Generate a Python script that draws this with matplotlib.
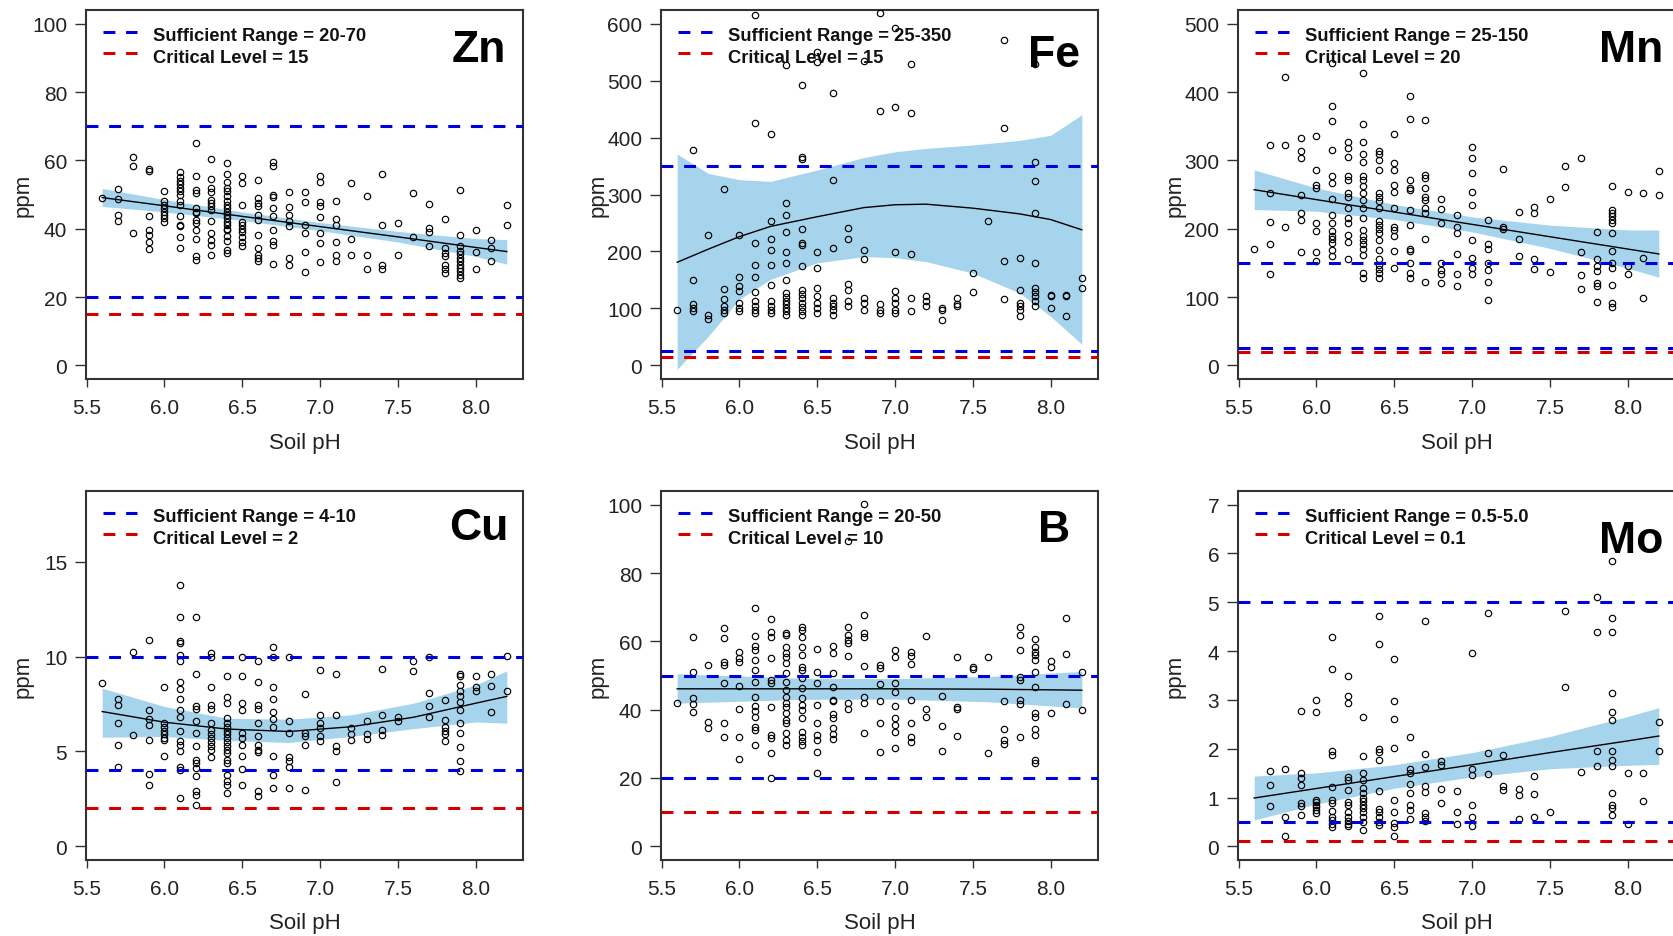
import matplotlib
matplotlib.use('Agg')
import matplotlib.pyplot as plt

# Soil pH vs micronutrient (ppm), one dict per element: pH -> readings
zn_pts = {
    5.6: [49.1], 5.7: [51.7, 48.6, 44.1, 42.1], 5.8: [61.1, 58.4, 38.7],
    5.9: [57.5, 57.0, 43.6, 39.7, 38.2, 36.1, 34.0],
    6.0: [50.9, 48.0, 47.0, 46.0, 45.0, 44.0, 43.0, 42.0],
    6.1: [56.5, 55.0, 54.0, 53.0, 52.0, 51.0, 50.0, 48.0, 47.0, 43.6, 41.1, 40.7, 37.5, 34.3],
    6.2: [65.2, 55.5, 51.4, 50.5, 46.0, 45.0, 44.5, 42.6, 41.8, 39.7, 37.0, 32.1, 30.9],
    6.3: [60.4, 54.6, 51.8, 50.8, 48.4, 47.4, 46.5, 45.5, 42.1, 38.7, 36.8, 35.3, 32.2],
    6.4: [59.1, 55.9, 53.8, 51.8, 50.9, 49.5, 48.0, 47.0, 46.0, 45.0, 44.0, 43.0, 42.0,
          41.0, 40.0, 39.7, 37.9, 36.3, 33.9, 32.9],
    6.5: [55.5, 53.3, 47.0, 42.0, 41.0, 40.0, 39.0, 37.5, 36.0, 35.0],
    6.6: [54.1, 48.9, 47.5, 46.5, 44.0, 42.6, 38.2, 34.3, 32.4, 31.5, 30.4],
    6.7: [59.4, 58.4, 49.9, 49.4, 46.0, 43.6, 39.7, 36.3, 35.1, 29.7],
    6.8: [50.8, 46.2, 44.1, 42.1, 40.7, 31.4, 29.5],
    6.9: [50.8, 47.8, 41.1, 38.7, 33.2, 27.2],
    7.0: [55.3, 53.8, 47.8, 46.5, 43.3, 38.7, 35.8, 30.3],
    7.1: [48.2, 42.9, 41.0, 36.1, 32.2, 30.6], 7.2: [53.3, 37.0, 32.4],
    7.3: [49.5, 32.4, 28.2], 7.4: [55.9, 41.1, 29.5, 28.2], 7.5: [41.6, 32.4],
    7.6: [50.4, 37.5], 7.7: [47.1, 40.2, 39.0, 34.8],
    7.8: [42.8, 34.3, 33.0, 31.9, 29.5, 28.2, 27.0],
    7.9: [51.3, 38.2, 34.8, 33.5, 32.5, 31.5, 30.5, 29.5, 28.5, 27.5, 26.5, 25.6],
    8.0: [39.5, 33.2, 28.2], 8.1: [36.8, 34.3, 30.6], 8.2: [47.0, 41.1],
}
fe_pts = {
    5.6: [98], 5.7: [378, 149, 107, 100, 95], 5.8: [229, 89, 82],
    5.9: [310, 134, 116, 105, 98, 92], 6.0: [229, 156, 139, 130, 110, 101, 95],
    6.1: [615, 426, 215, 177, 156, 128, 113, 105, 98, 92],
    6.2: [406, 254, 222, 202, 177, 141, 113, 105, 98, 92],
    6.3: [527, 285, 264, 234, 199, 180, 149, 127, 120, 113, 107, 101, 95, 89],
    6.4: [492, 365, 362, 239, 215, 212, 174, 133, 125, 118, 110, 102, 95, 89],
    6.5: [550, 533, 199, 171, 136, 121, 110, 101, 92],
    6.6: [479, 325, 206, 118, 110, 104, 97, 89],
    6.7: [241, 222, 143, 133, 113, 104], 6.8: [535, 202, 186, 118, 110, 98],
    6.9: [619, 446, 107, 98, 92], 7.0: [592, 453, 199, 131, 118, 110, 98, 92],
    7.1: [529, 444, 196, 118, 95], 7.2: [121, 113, 104], 7.3: [101, 98, 80],
    7.4: [118, 107, 104], 7.5: [163, 128], 7.6: [254], 7.7: [572, 416, 184, 116],
    7.8: [189, 133, 110, 104, 98, 86], 7.9: [530, 357, 323, 267, 179, 136, 128, 121, 113, 104],
    8.0: [124, 121, 101], 8.1: [124, 121, 86], 8.2: [153, 136],
}
mn_pts = {
    5.6: [170], 5.7: [323, 252, 210, 177, 134], 5.8: [422, 323, 203],
    5.9: [332, 314, 303, 250, 223, 212, 166], 6.0: [336, 286, 264, 259, 208, 197, 166, 153],
    6.1: [442, 380, 357, 315, 277, 267, 243, 220, 209, 197, 190, 185, 179, 169, 160],
    6.2: [327, 318, 305, 277, 271, 252, 247, 230, 215, 208, 191, 181, 156],
    6.3: [428, 353, 327, 310, 298, 277, 271, 262, 252, 242, 230, 215, 198, 190, 184,
          177, 170, 162, 135, 128],
    6.4: [313, 310, 301, 286, 252, 247, 240, 230, 211, 206, 200, 194, 184, 169, 155,
          147, 141, 135, 128],
    6.5: [338, 296, 286, 264, 254, 230, 203, 198, 189, 168, 143],
    6.6: [394, 360, 271, 259, 257, 227, 206, 170, 168, 150, 135, 128],
    6.7: [359, 279, 274, 259, 247, 242, 230, 223, 185, 122],
    6.8: [243, 229, 208, 150, 140, 133, 120], 6.9: [220, 203, 194, 163, 134, 116],
    7.0: [319, 304, 281, 254, 235, 183, 157, 143, 134],
    7.1: [212, 177, 170, 150, 140, 122, 96], 7.2: [287, 202, 199], 7.3: [225, 185, 160],
    7.4: [232, 223, 155, 141], 7.5: [243, 136], 7.6: [292, 261], 7.7: [304, 166, 132, 111],
    7.8: [195, 156, 145, 138, 121, 116, 92],
    7.9: [263, 228, 223, 218, 213, 208, 194, 168, 150, 143, 117, 91, 86],
    8.0: [254, 145, 134], 8.1: [252, 157, 99], 8.2: [284, 250],
}
cu_pts = {
    5.6: [8.63], 5.7: [7.75, 7.42, 6.49, 5.35, 4.16], 5.8: [10.26, 5.88],
    5.9: [10.88, 7.19, 6.70, 6.40, 5.58, 3.82, 3.25],
    6.0: [8.39, 6.49, 6.30, 6.10, 5.90, 5.70, 5.60, 4.77],
    6.1: [13.77, 12.1, 10.8, 10.7, 10.1, 9.74, 8.65, 8.3, 7.75, 7.19, 6.84, 6.1, 5.53,
          5.35, 5.0, 4.16, 4.04, 2.54],
    6.2: [12.1, 9.07, 7.4, 7.23, 6.58, 5.96, 5.3, 4.56, 4.39, 4.12, 3.72, 2.89, 2.72, 2.19],
    6.3: [10.2, 9.96, 8.39, 7.42, 7.25, 6.49, 6.14, 5.9, 5.7, 5.5, 5.3, 5.09, 4.7],
    6.4: [9.0, 7.89, 7.54, 6.75, 6.49, 6.3, 6.1, 5.9, 5.7, 5.5, 5.3, 5.1, 4.9, 4.56,
          4.39, 3.77, 3.42, 3.25, 2.8],
    6.5: [9.96, 9.0, 7.54, 7.19, 5.96, 5.7, 5.35, 4.74, 4.09, 3.25],
    6.6: [9.74, 8.68, 7.46, 7.23, 6.49, 5.82, 5.35, 5.1, 4.95, 2.89, 2.67],
    6.7: [10.5, 10.0, 8.39, 7.77, 7.1, 6.7, 6.28, 4.77, 3.77, 3.07],
    6.8: [10.0, 6.58, 5.96, 4.7, 4.47, 4.16, 3.07], 6.9: [8.02, 5.96, 5.79, 5.35, 2.98],
    7.0: [9.3, 6.93, 6.49, 6.23, 5.82, 5.53], 7.1: [9.07, 6.93, 5.3, 5.04, 3.39],
    7.2: [6.23, 5.9, 5.6], 7.3: [6.58, 5.93, 5.65], 7.4: [9.35, 6.93, 6.14, 5.88],
    7.5: [6.84, 6.58], 7.6: [9.77, 9.25], 7.7: [10.0, 8.1, 7.4, 6.8],
    7.8: [7.72, 6.63, 6.3, 6.1, 5.9, 5.53],
    7.9: [9.09, 8.95, 8.5, 8.2, 7.9, 7.6, 7.19, 6.49, 5.96, 5.21, 4.47, 3.98],
    8.0: [8.95, 8.42, 8.16], 8.1: [9.07, 8.46, 7.1], 8.2: [10.05, 8.16],
}
b_pts = {
    5.6: [41.9], 5.7: [61.3, 51.1, 43.3, 41.6, 39.4], 5.8: [53.1, 36.5, 34.6],
    5.9: [63.8, 60.9, 54.0, 53.1, 47.9, 36.0, 32.1],
    6.0: [57.0, 55.0, 54.0, 46.9, 40.1, 32.1, 25.5],
    6.1: [69.8, 61.6, 58.7, 57.4, 54.5, 51.6, 48.2, 43.8, 41.0, 39.5, 38.0, 35.0, 34.0, 29.7],
    6.2: [66.4, 62.8, 61.3, 55.0, 48.7, 47.7, 40.7, 32.6, 31.6, 27.3, 20.0],
    6.3: [62.3, 61.8, 58.4, 56.5, 55.5, 53.6, 50.6, 48.2, 45.8, 43.8, 41.9, 40.9, 39.0,
          37.0, 36.0, 33.1, 31.1, 29.7],
    6.4: [64.3, 63.3, 61.3, 58.4, 56.0, 52.6, 51.6, 49.2, 46.3, 43.3, 41.4, 40.0, 37.5,
          33.6, 32.1, 30.7, 29.7],
    6.5: [57.9, 51.1, 47.9, 41.4, 36.0, 32.6, 31.2, 27.6, 21.4],
    6.6: [58.6, 56.7, 50.8, 46.5, 42.8, 42.4, 38.7, 37.5, 34.6, 33.0, 31.4],
    6.7: [89.4, 64.3, 61.8, 60.3, 59.4, 55.8, 41.9, 40.1],
    6.8: [100.3, 67.7, 62.3, 61.3, 52.9, 43.8, 41.9, 33.1],
    6.9: [53.1, 52.3, 47.4, 42.4, 36.0, 27.6],
    7.0: [57.4, 55.3, 47.7, 45.3, 41.1, 37.5, 35.5, 33.4, 28.9],
    7.1: [57.0, 55.7, 53.3, 42.8, 36.0, 32.1, 30.4], 7.2: [61.6, 40.1, 38.0],
    7.3: [44.1, 35.2, 28.0], 7.4: [55.5, 40.9, 40.1, 32.3], 7.5: [52.6, 51.8],
    7.6: [55.5, 27.3], 7.7: [42.4, 34.4, 31.0, 30.0],
    7.8: [64.3, 61.8, 57.4, 49.5, 48.7, 42.8, 41.7, 31.9],
    7.9: [60.6, 58.4, 57.0, 56.0, 54.5, 50.9, 46.5, 39.1, 38.0, 34.3, 32.6, 25.3, 24.3],
    8.0: [54.3, 52.6, 38.9], 8.1: [66.7, 56.2, 41.6], 8.2: [51.1, 39.9],
}
mo_pts = {
    5.7: [1.55, 1.26, 0.82], 5.8: [1.58, 0.61, 0.22],
    5.9: [2.78, 1.51, 1.40, 1.26, 0.89, 0.82, 0.65],
    6.0: [3.0, 2.76, 0.95, 0.9, 0.85, 0.8, 0.74, 0.68],
    6.1: [4.29, 3.64, 1.96, 1.87, 1.21, 0.95, 0.89, 0.72, 0.6, 0.53, 0.45, 0.4],
    6.2: [3.5, 3.07, 2.94, 1.43, 1.35, 1.16, 0.9, 0.85, 0.7, 0.6, 0.52, 0.45, 0.41],
    6.3: [2.64, 1.85, 1.51, 1.36, 1.19, 1.09, 1.0, 0.93, 0.85, 0.78, 0.7, 0.6, 0.5, 0.34],
    6.4: [4.72, 4.14, 1.99, 1.94, 1.77, 1.14, 0.76, 0.7, 0.6, 0.5, 0.44],
    6.5: [3.84, 2.97, 2.6, 2.02, 0.95, 0.7, 0.48, 0.4, 0.22],
    6.6: [2.23, 1.58, 1.5, 1.28, 1.1, 0.85, 0.75, 0.55],
    6.7: [4.61, 1.9, 1.62, 1.23, 1.12, 0.68, 0.6, 0.51],
    6.8: [1.74, 1.67, 1.17, 0.89], 6.9: [1.14, 0.7, 0.46],
    7.0: [3.97, 1.59, 1.47, 0.85, 0.61, 0.41], 7.1: [4.79, 1.91, 1.49],
    7.2: [1.87, 1.23, 1.16], 7.3: [1.17, 1.06, 0.56], 7.4: [1.45, 1.08, 0.61],
    7.5: [0.7], 7.6: [4.82, 3.26], 7.7: [1.52], 7.8: [5.11, 4.4, 1.96, 1.64],
    7.9: [5.85, 4.67, 4.4, 3.14, 2.76, 2.58, 1.96, 1.77, 1.65, 1.1, 0.85, 0.78, 0.65],
    8.0: [1.5, 0.46], 8.1: [1.51, 0.93], 8.2: [2.54, 1.96],
}

# fitted curve and confidence band
zn_fit_ph = [5.6, 6.0, 6.5, 7.0, 7.5, 8.0, 8.2]
zn_fit = [49.1, 46.7, 43.6, 40.6, 37.6, 34.5, 33.3]
zn_lo = [46.5, 44.9, 42.4, 39.4, 36.1, 31.9, 29.6]
zn_hi = [51.8, 48.5, 44.9, 41.8, 39.2, 37.1, 36.8]

fe_fit_ph = [5.6, 5.8, 6.0, 6.2, 6.5, 6.8, 7.0, 7.2, 7.5, 7.8, 8.0, 8.2]
fe_fit = [181, 204, 226, 244, 261, 277, 282, 283, 276, 266, 256, 238]
fe_lo = [-7, 51, 116, 151, 180, 191, 189, 182, 162, 127, 86, 37]
fe_hi = [371, 337, 326, 323, 343, 365, 375, 381, 387, 395, 404, 440]

mn_fit_ph = [5.6, 6.0, 6.5, 7.0, 7.5, 8.0, 8.2]
mn_fit = [257, 242.5, 224.4, 206.3, 188.2, 170.2, 163]
mn_lo = [228, 225.5, 213.4, 195.3, 171.2, 142.2, 129]
mn_hi = [286, 259.5, 235.4, 217.3, 205.2, 198.2, 198]

cu_fit_ph = [5.6, 6.0, 6.4, 6.8, 7.2, 7.6, 8.0, 8.2]
cu_fit = [7.1, 6.54, 6.18, 6.05, 6.3, 6.8, 7.54, 7.9]
cu_lo = [5.75, 5.79, 5.58, 5.47, 5.79, 6.2, 6.55, 6.49]
cu_hi = [8.33, 7.37, 6.75, 6.7, 6.93, 7.54, 8.5, 9.25]

b_fit_ph = [5.6, 6.4, 7.0, 7.6, 8.2]
b_fit = [46.1, 46.1, 46.1, 46.0, 45.7]
b_lo = [41.9, 43.0, 43.1, 42.3, 40.5]
b_hi = [50.5, 49.2, 49.1, 49.7, 51.2]

mo_fit_ph = [5.6, 6.0, 6.5, 7.0, 7.5, 8.0, 8.2]
mo_fit = [0.99, 1.185, 1.43, 1.67, 1.92, 2.16, 2.26]
mo_lo = [0.54, 0.865, 1.19, 1.42, 1.59, 1.66, 1.68]
mo_hi = [1.44, 1.505, 1.67, 1.92, 2.25, 2.66, 2.84]

x_ticks = [5.5, 6.0, 6.5, 7.0, 7.5, 8.0]

panels = [
    # name, points, fit, ylim, yticks, sufficient (lo, hi), critical, legend text, name baseline
    ('Zn', zn_pts, (zn_fit_ph, zn_fit, zn_lo, zn_hi), (0, 100), [0, 20, 40, 60, 80, 100],
     (20, 70), 15, 'Sufficient Range = 20-70', 'Critical Level = 15', 89.1),
    ('Fe', fe_pts, (fe_fit_ph, fe_fit, fe_lo, fe_hi), (0, 600), [0, 100, 200, 300, 400, 500, 600],
     (25, 350), 15, 'Sufficient Range = 25-350', 'Critical Level = 15', 525),
    ('Mn', mn_pts, (mn_fit_ph, mn_fit, mn_lo, mn_hi), (0, 500), [0, 100, 200, 300, 400, 500],
     (25, 150), 20, 'Sufficient Range = 25-150', 'Critical Level = 20', 445),
    ('Cu', cu_pts, (cu_fit_ph, cu_fit, cu_lo, cu_hi), (0, 18), [0, 5, 10, 15],
     (4, 10), 2, 'Sufficient Range = 4-10', 'Critical Level = 2', 16.2),
    ('B', b_pts, (b_fit_ph, b_fit, b_lo, b_hi), (0, 100), [0, 20, 40, 60, 80, 100],
     (20, 50), 10, 'Sufficient Range = 20-50', 'Critical Level = 10', 89.4),
    ('Mo', mo_pts, (mo_fit_ph, mo_fit, mo_lo, mo_hi), (0, 7), [0, 1, 2, 3, 4, 5, 6, 7],
     (0.5, 5.0), 0.1, 'Sufficient Range = 0.5-5.0', 'Critical Level = 0.1', 6.03),
]

W, H = 1673, 937
fig = plt.figure(figsize=(W / 100, H / 100), dpi=100)

col_left = [86, 661, 1238]
row_top = [11, 492]
ax_w, ax_h = 437, 369

narrow = ['Liberation Sans Narrow', 'Liberation Sans', 'DejaVu Sans']
regular = ['Liberation Sans', 'DejaVu Sans']

BLUE = '#0000DD'
RED = '#D40000'
BAND = '#A6D4EC'
dash = (3.9, 3.5)

for i, (name, pts, fit, ylim, yticks, suff, crit, lab1, lab2, name_y) in enumerate(panels):
    r, c = divmod(i, 3)
    ax = fig.add_axes([col_left[c] / W, 1 - (row_top[r] + ax_h) / H, ax_w / W, ax_h / H])

    xs, ys = [], []
    for ph, vals in pts.items():
        xs += [ph] * len(vals)
        ys += vals

    fph, fval, flo, fhi = fit
    ax.fill_between(fph, flo, fhi, color=BAND, lw=0, zorder=1)
    ax.plot(xs, ys, 'o', mfc='none', mec='black', ms=4.6, mew=0.85, zorder=3)
    ax.plot(fph, fval, color='black', lw=1.0, zorder=4)

    for yv in suff:
        ax.axhline(yv, color=BLUE, lw=2.2, dashes=dash, zorder=5)
    ax.axhline(crit, color=RED, lw=2.2, dashes=dash, zorder=5)

    # legend drawn by hand to sit exactly as in the R figure
    for k, (col, txt) in enumerate([(BLUE, lab1), (RED, lab2)]):
        ly = 1 - (21.5 + 21.3 * k) / ax_h
        ax.plot([17 / ax_w, 51 / ax_w], [ly, ly], transform=ax.transAxes, color=col,
                lw=2.2, dashes=dash, clip_on=False, zorder=6)
        ax.text(67 / ax_w, 1 - (29.7 + 22 * k) / ax_h, txt, transform=ax.transAxes,
                ha='left', va='baseline', fontsize=13.2, fontweight='bold',
                family=regular, color='#111111', zorder=6)

    ax.text(8.023, name_y, name, ha='center', va='baseline', fontsize=32,
            fontweight='bold', family=regular, color='black', zorder=7)

    span = ylim[1] - ylim[0]
    ax.set_ylim(ylim[0] - 0.04 * span, ylim[1] + 0.04 * span)
    ax.set_xlim(5.496, 8.304)
    ax.set_xticks(x_ticks)
    ax.set_xticklabels(['%.1f' % t for t in x_ticks], family=narrow, fontsize=15, color='#222222')
    ax.set_yticks(yticks)
    ax.set_yticklabels([str(t) for t in yticks], family=narrow, fontsize=15, color='#222222')
    ax.tick_params(axis='y', length=8, width=1.0, pad=5.5, color='#333333')
    ax.tick_params(axis='x', length=5.5, width=1.0, pad=8.5, color='#333333')

    ax.set_xlabel('Soil pH', family=regular, fontsize=16, color='#222222', va='center')
    ax.xaxis.set_label_coords(0.5, -63 / ax_h)
    ax.set_ylabel('ppm', family=regular, fontsize=16, color='#222222', va='center')
    ax.yaxis.set_label_coords(-63 / ax_w, 0.5)

    for sp in ax.spines.values():
        sp.set_color('#333333')
        sp.set_linewidth(1.5)

fig.savefig('out.png', dpi=100)
